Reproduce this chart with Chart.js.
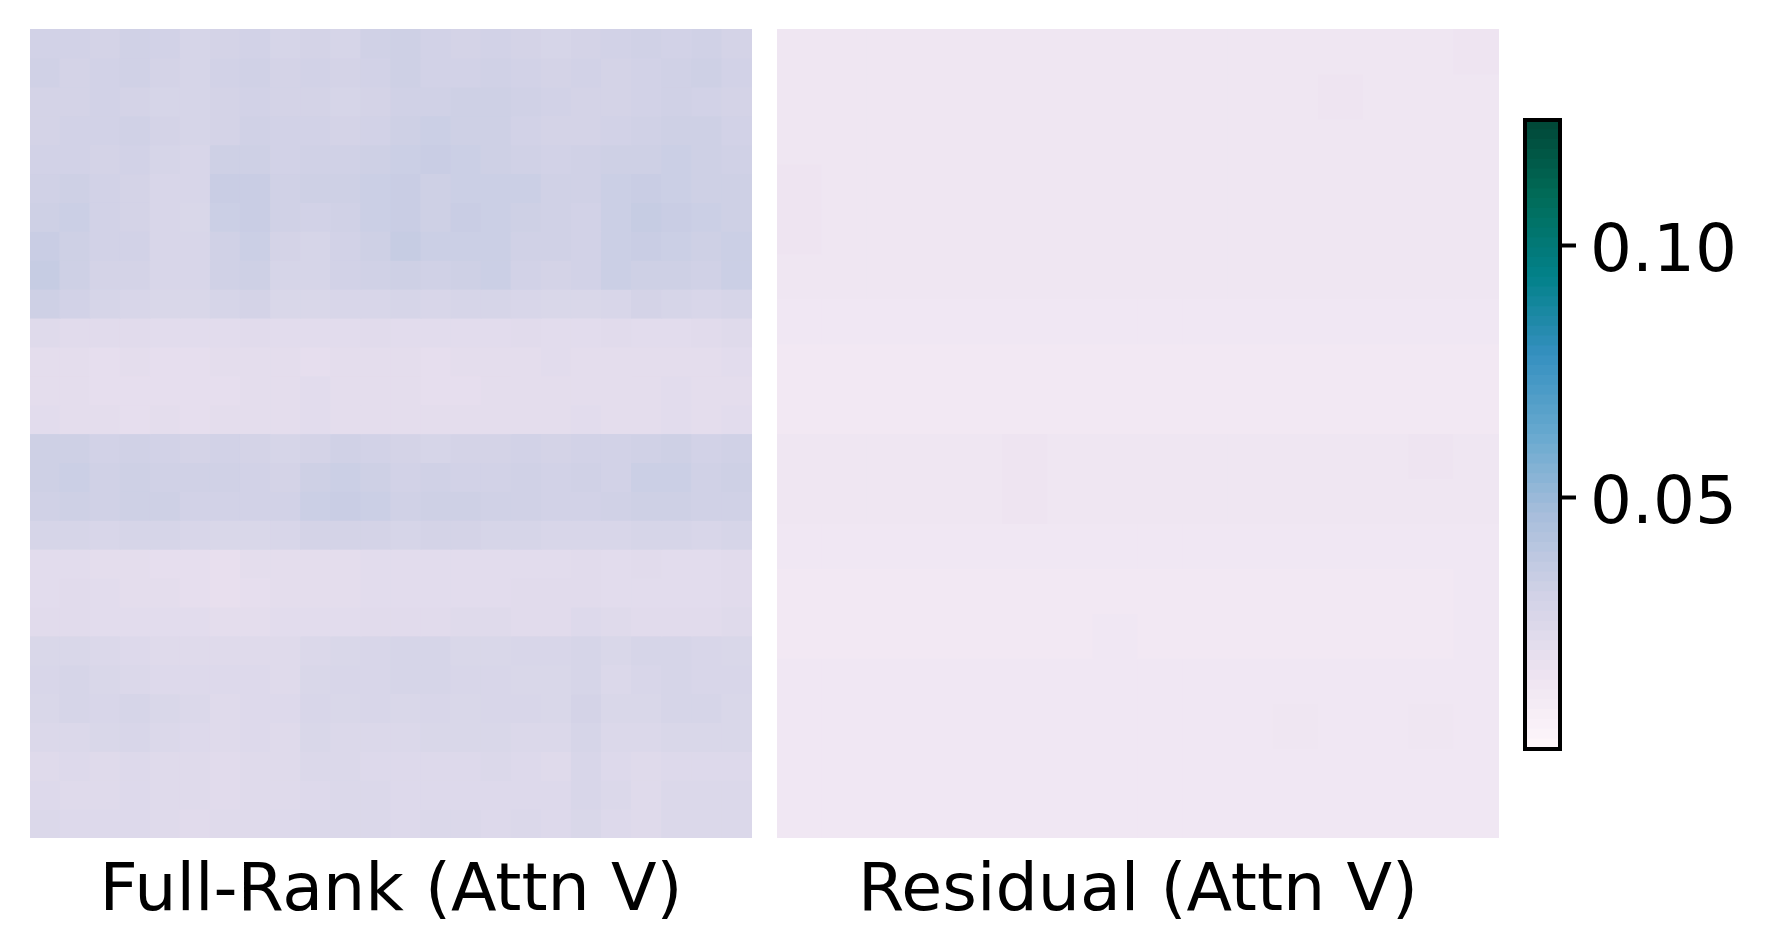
<!DOCTYPE html>
<html><head><meta charset="utf-8">
<script src="https://cdn.jsdelivr.net/npm/chart.js@4/dist/chart.umd.min.js"></script>
<style>
html,body{margin:0;padding:0;background:#fff;width:1767px;height:952px;overflow:hidden}
canvas{position:absolute;top:0}
</style></head><body>
<canvas id="c1" style="left:0"></canvas>
<canvas id="c2" style="left:765px"></canvas>
<canvas id="c3" style="left:1510px"></canvas>
<script>
const panelTitles = ["Full-Rank (Attn V)", "Residual (Attn V)"];
const colorTicks = [0.05, 0.10];
const colorMin = 0, colorMax = 0.125;
const pubugnStops = ["#fff7fb","#ece2f0","#d0d1e6","#a6bddb","#67a9cf","#3690c0","#02818a","#016c59","#014636"];
// mean attention per region, in thousandths
const fullRank = [
[30,30,29,31,30,28,29,30,28,29,28,31,32,30,29,30,29,28,29,30,31,30,31,29],
[31,29,30,31,29,28,30,31,29,30,29,30,32,30,30,31,30,29,30,29,30,31,32,30],
[29,29,30,29,28,28,29,30,29,29,28,29,31,31,32,32,31,30,29,29,30,31,30,29],
[29,30,30,31,29,28,29,31,30,30,29,30,32,33,32,32,30,29,29,30,31,32,32,30],
[30,30,29,30,28,27,32,32,30,31,31,32,33,34,33,32,31,30,31,32,32,33,32,31],
[31,32,30,29,27,27,34,34,31,32,32,33,34,32,33,33,33,31,31,33,34,33,32,32],
[32,33,30,29,27,26,33,34,31,30,31,33,34,32,34,33,32,31,30,33,35,34,33,32],
[34,32,30,30,27,27,31,33,29,28,30,32,35,33,33,33,31,31,30,33,34,33,32,33],
[35,32,29,29,27,27,31,32,28,28,30,31,32,31,32,33,30,29,30,33,32,32,31,33],
[32,30,28,27,26,26,28,29,26,26,27,27,28,27,28,28,27,26,26,27,29,28,27,28],
[23,22,22,22,21,21,21,22,21,21,21,22,21,21,21,21,22,21,21,22,21,21,22,23],
[20,20,19,20,19,19,20,20,20,19,20,20,20,19,20,20,20,21,20,20,20,20,20,21],
[20,20,19,19,19,19,19,20,20,21,20,20,20,19,19,20,20,20,20,20,20,21,20,20],
[21,20,20,19,20,19,20,20,20,21,20,20,20,20,20,20,20,20,21,20,20,21,20,21],
[32,32,30,31,30,29,30,29,28,29,31,30,29,28,29,29,30,29,30,30,31,32,30,31],
[32,33,31,32,31,31,31,30,29,32,33,32,30,31,30,30,31,30,31,30,33,33,31,32],
[31,32,31,32,32,30,30,30,30,33,34,33,31,32,32,31,31,30,30,31,32,32,31,31],
[28,28,27,28,28,27,26,26,27,29,29,29,28,29,29,28,28,27,27,27,28,28,27,28],
[21,21,20,20,19,19,18,20,20,20,20,21,21,21,21,21,21,21,22,21,22,21,21,22],
[21,22,21,20,20,19,18,19,20,20,20,21,21,21,21,21,22,22,22,21,21,21,21,22],
[22,22,21,21,21,21,20,20,21,21,21,22,22,22,23,23,22,22,24,23,22,22,22,23],
[26,26,25,24,23,23,23,23,23,25,26,27,28,28,26,26,27,27,28,26,28,28,27,26],
[27,28,26,25,24,24,24,24,23,26,27,27,28,28,27,27,26,26,28,25,27,28,27,27],
[26,28,27,28,26,25,23,24,24,27,26,27,26,27,26,27,27,26,29,26,26,28,28,26],
[25,25,26,27,25,24,23,24,23,26,25,25,25,26,26,26,25,25,28,25,25,26,26,26],
[23,24,23,24,23,23,22,23,23,25,25,24,24,24,24,25,24,23,27,24,23,24,24,24],
[24,23,23,24,23,23,22,23,23,24,25,25,24,24,24,24,24,24,27,25,23,25,25,25],
[25,24,24,24,23,22,23,23,24,25,25,25,24,25,25,24,25,24,26,24,23,25,25,25]
];
const residual = [
[13,13,13,13,13,13,13,13,13,13,13,13,13,13,13,14],
[13,13,13,13,13,13,13,13,13,13,13,13,14,13,13,13],
[13,13,13,13,13,13,13,13,13,13,13,13,13,13,13,13],
[14,13,13,13,13,13,13,13,13,13,13,13,13,13,13,13],
[14,13,13,13,13,13,13,13,13,13,13,13,13,13,13,13],
[13,13,13,13,13,13,13,13,13,13,13,13,13,13,13,13],
[12,12,12,12,12,12,12,12,12,12,12,12,12,12,12,12],
[11,11,11,11,11,11,11,11,11,11,11,11,11,11,11,11],
[11,11,11,11,11,11,11,11,11,11,11,11,11,11,11,11],
[13,13,13,13,13,14,13,13,13,13,13,13,13,13,14,13],
[13,13,13,13,13,14,13,13,13,13,13,13,13,13,13,13],
[12,12,12,12,12,12,12,12,12,12,12,12,12,12,12,12],
[11,11,11,11,11,11,11,11,11,11,11,11,11,11,11,12],
[11,11,11,11,11,11,11,12,11,11,11,11,11,11,11,12],
[12,12,12,12,12,12,12,12,12,12,12,12,12,12,12,12],
[12,12,12,12,12,12,12,12,12,12,12,13,12,12,13,12],
[12,12,12,12,12,12,12,12,12,12,12,12,12,12,12,12],
[12,12,12,12,12,12,12,12,12,12,12,12,12,12,12,12]
];

function hexRgb(h){return [1,3,5].map(i=>parseInt(h.substr(i,2),16));}
function cmap(v){
  const t=Math.max(0,Math.min(1,(v-colorMin)/(colorMax-colorMin)))*(pubugnStops.length-1);
  const i=Math.min(Math.floor(t),pubugnStops.length-2),f=t-i;
  const a=hexRgb(pubugnStops[i]),b=hexRgb(pubugnStops[i+1]);
  return `rgb(${a.map((x,k)=>Math.round(x+(b[k]-x)*f)).join(",")})`;
}
const FONT='"DejaVu Sans"';
function heatmap(id,canvasW,pad,matrix,title){
  const el=document.getElementById(id);
  el.width=canvasW;el.height=952;el.style.width=canvasW+"px";el.style.height="952px";
  new Chart(el,{type:"bar",
    data:{labels:matrix[0].map((_,i)=>i),
      datasets:matrix.map((row,r)=>({
        data:row.map(()=>[r,r+1]),
        backgroundColor:row.map(v=>cmap(v/1000)),
        borderWidth:0,barPercentage:1,categoryPercentage:1,grouped:false,inflateAmount:0.6}))},
    options:{responsive:false,animation:false,
      layout:{padding:{left:pad.left,right:pad.right,top:29,bottom:0}},
      plugins:{legend:{display:false},tooltip:{enabled:false}},
      scales:{
        x:{grid:{display:false},border:{display:false},ticks:{display:false},
           afterFit(s){s.height=114;},
           title:{display:true,text:title,color:"#000",font:{family:FONT,size:66.6},padding:{top:10,bottom:19}}},
        y:{display:false,min:0,max:matrix.length,reverse:true}
      }}
  });
}
heatmap("c1",765,{left:30,right:13},fullRank,panelTitles[0]);
heatmap("c2",745,{left:12,right:11},residual,panelTitles[1]);

// colour bar
const barLevels=[];
for(let i=0;i<64;i++)barLevels.push(i);
const el3=document.getElementById("c3");
el3.width=257;el3.height=952;el3.style.width="257px";el3.style.height="952px";
new Chart(el3,{type:"bar",
  data:{labels:[""],datasets:barLevels.map(i=>({
    data:[[colorMax*i/64,colorMax*(i+1)/64]],
    backgroundColor:cmap(colorMax*(i+.5)/64),
    borderWidth:0,barPercentage:1,categoryPercentage:1,grouped:false,inflateAmount:0.6}))},
  options:{responsive:false,animation:false,
    layout:{padding:{left:15,top:120,bottom:203,right:0}},
    plugins:{legend:{display:false},tooltip:{enabled:false}},
    scales:{
      x:{display:false},
      y:{position:"right",min:colorMin,max:colorMax,
        afterBuildTicks(s){s.ticks=colorTicks.map(value=>({value}));},
        afterFit(s){s.width=207;},
        grid:{drawOnChartArea:false,drawTicks:true,tickLength:16,tickWidth:4,tickColor:"#000"},
        border:{display:false},
        ticks:{color:"#000",padding:14,labelOffset:8,font:{family:FONT,size:66},callback:v=>v.toFixed(2)}}
    }},
  plugins:[{id:"frame",afterDraw(c){const a=c.chartArea,x=c.ctx;x.save();x.strokeStyle="#000";x.lineWidth=4;
    x.strokeRect(a.left,a.top,a.right-a.left,a.bottom-a.top);x.restore();}}]
});
</script></body></html>
